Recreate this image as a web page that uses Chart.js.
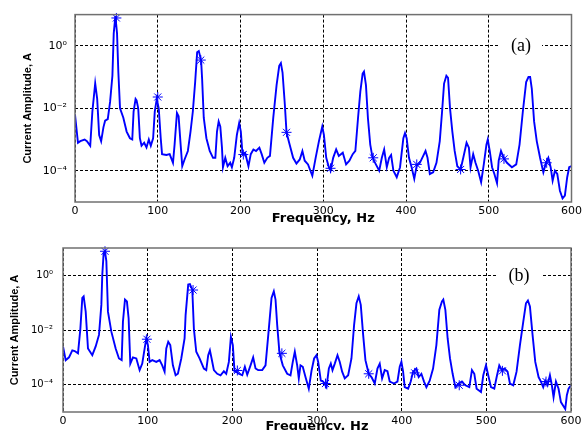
<!DOCTYPE html>
<html>
<head>
<meta charset="utf-8">
<script src="https://cdn.jsdelivr.net/npm/chart.js@4"></script>
<style>
  html, body { margin: 0; padding: 0; background: #fff; }
  body { width: 585px; height: 430px; overflow: hidden; position: relative; }
  canvas { position: absolute; left: 0; }
  #chartA { top: 0; }
  #chartB { top: 226px; }
  .tag {
    position: absolute; background: #fff; color: #000;
    font-family: "Liberation Serif", serif; font-size: 18px;
    line-height: 20px; text-align: center;
  }
</style>
</head>
<body>
<canvas id="chartA" width="585" height="228"></canvas>
<canvas id="chartB" width="585" height="214"></canvas>
<div class="tag" style="left:500px; top:35px; width:42px; height:20px;">(a)</div>
<div class="tag" style="left:497px; top:265px; width:44px; height:20px;">(b)</div>

<script>
// --- datos ---
const yTickValues = [1e-4, 1e-2, 1];
const yTickLabels = ['10\u207B\u2074', '10\u207B\u00B2', '10\u2070'];

// (a)
const freqA = [
  0, 3.6, 6.4, 11.6, 14.4, 18.4, 21, 24.4, 26.8, 29.2,
  31.6, 34.4, 36.4, 39.6, 42.4, 45.2, 46.8, 48.8, 50.8, 52.4,
  54.4, 58.4, 62.4, 66.4, 69.2, 70.8, 73.2, 74.4, 76.4, 78.4,
  80.4, 83.6, 86.4, 89.2, 91.6, 94.4, 96.4, 98.8, 101.2, 103.6,
  105.2, 110.4, 114.4, 118.4, 120.4, 123.2, 125.2, 127.6, 129.6, 132.4,
  136.4, 139.6, 142.4, 145.2, 147.6, 149.6, 152.4, 153.6, 155.6, 158.8,
  162.8, 166.8, 169.6, 171.6, 173.6, 175.6, 177.6, 178.8, 181.6, 184.4,
  187.6, 189.6, 192.4, 195.6, 198.4, 200.4, 202.4, 205.6, 209.6, 212.4,
  215.6, 218.8, 222.8, 225.6, 228.8, 232.4, 235.6, 239.6, 243.6, 246.8,
  248.8, 250.8, 253.6, 255.6, 258.8, 263.6, 267.6, 271.6, 274.8, 277.6,
  281.6, 286.8, 290.8, 294.8, 298.8, 300.8, 303.6, 306.8, 308.8, 312,
  315.6, 318.8, 323.6, 327.6, 331.6, 335.6, 338.8, 342, 344.8, 347.6,
  349.2, 351.6, 354, 356.8, 359.6, 363.6, 367.6, 370.8, 373.6, 376.8,
  379.6, 382, 384.8, 388.8, 392.8, 396.8, 398.8, 400.8, 403.6, 406.8,
  410, 412.8, 416.8, 420.8, 423.6, 426, 428.8, 432.8, 436.8, 440.8,
  443.6, 446, 448.8, 450.8, 453.2, 456, 458.8, 462, 466, 469.2,
  473.2, 476, 478, 481.2, 484, 487.2, 490.8, 494, 497.2, 498.8,
  501.2, 504, 506.8, 510, 512, 514.8, 518, 522, 528, 533.2,
  537.2, 541.2, 545.2, 548, 550, 552, 554.8, 558, 562, 566,
  569.2, 572, 574.8, 577.2, 580, 582.8, 586, 589.2, 592, 594.8,
  597.2, 600
];
const ampA = [
  6.3e-3, 7.9e-4, 8.9e-4, 1.0e-3, 8.9e-4, 6.3e-4, 7.9e-3, 6.3e-2, 2.0e-2, 1.4e-3,
  8.9e-4, 2.5e-3, 4.0e-3, 4.5e-3, 1.6e-2, 0.11, 2.5, 8.9, 2.5, 0.14,
  1.0e-2, 5.0e-3, 1.8e-3, 1.1e-3, 1.0e-3, 7.9e-3, 2.0e-2, 1.8e-2, 1.0e-2, 1.1e-3,
  6.3e-4, 7.9e-4, 5.6e-4, 1.0e-3, 6.3e-4, 1.1e-3, 7.9e-3, 2.0e-2, 1.0e-2, 1.1e-3,
  3.4e-4, 3.2e-4, 3.4e-4, 1.8e-4, 7.1e-4, 7.1e-3, 5.6e-3, 7.1e-4, 1.4e-4, 2.3e-4,
  4.3e-4, 1.8e-3, 7.9e-3, 6.9e-2, 0.62, 0.68, 0.34, 8.9e-2, 5.0e-3, 1.1e-3,
  4.3e-4, 2.6e-4, 2.6e-4, 1.8e-3, 3.8e-3, 2.6e-3, 5.5e-4, 1.3e-4, 2.6e-4, 1.4e-4,
  1.8e-4, 1.3e-4, 2.6e-4, 1.4e-3, 3.4e-3, 1.8e-3, 3.4e-4, 3.8e-4, 1.4e-4, 3.4e-4,
  4.8e-4, 4.3e-4, 5.5e-4, 3.4e-4, 1.8e-4, 2.6e-4, 3.0e-4, 5.0e-3, 5.5e-2, 0.23,
  0.28, 0.14, 1.3e-2, 1.7e-3, 7.9e-4, 2.6e-4, 1.7e-4, 2.3e-4, 4.3e-4, 2.1e-4,
  1.6e-4, 6.9e-5, 2.6e-4, 8.9e-4, 2.6e-3, 1.4e-3, 2.6e-4, 1.3e-4, 1.0e-4, 2.6e-4,
  4.8e-4, 3.0e-4, 3.8e-4, 1.6e-4, 2.1e-4, 3.4e-4, 4.3e-4, 4.8e-3, 3.4e-2, 0.13,
  0.15, 5.5e-2, 4.8e-3, 6.9e-4, 2.6e-4, 1.6e-4, 1.0e-4, 2.6e-4, 4.8e-4, 1.3e-4,
  2.6e-4, 3.2e-4, 1.0e-4, 6.2e-5, 1.3e-4, 1.1e-3, 1.6e-3, 1.1e-3, 2.6e-4, 1.3e-4,
  5.5e-5, 1.4e-4, 1.8e-4, 3.0e-4, 4.3e-4, 2.6e-4, 7.9e-5, 8.9e-5, 1.8e-4, 8.9e-4,
  7.9e-3, 6.2e-2, 0.11, 9.5e-2, 1.0e-2, 1.8e-3, 4.3e-4, 1.4e-4, 1.1e-4, 2.6e-4,
  7.9e-4, 5.5e-4, 1.3e-4, 3.4e-4, 1.8e-4, 1.0e-4, 4.3e-5, 1.6e-4, 6.9e-4, 1.0e-3,
  4.3e-4, 1.3e-4, 7.9e-5, 4.0e-5, 2.1e-4, 4.3e-4, 2.6e-4, 1.8e-4, 1.3e-4, 1.6e-4,
  6.9e-4, 7.9e-3, 6.9e-2, 0.1, 0.1, 4.3e-2, 3.8e-3, 8.9e-4, 2.6e-4, 8.9e-5,
  1.8e-4, 2.6e-4, 1.3e-4, 4.8e-5, 1.0e-4, 7.9e-5, 2.3e-5, 1.3e-5, 1.6e-5, 6.2e-5,
  1.3e-4, 1.4e-4
];
const starFreqA = [50, 100, 152, 203.4, 255.6, 308.8, 360.4, 413, 466, 518.4, 570];
const starAmpA = [7.8, 2.3e-2, 0.35, 3.3e-4, 1.7e-3, 1.2e-4, 2.6e-4, 1.6e-4, 1.1e-4, 2.4e-4, 1.8e-4];

// (b)
const freqB = [
  0, 3.2, 7.1, 11, 13.8, 17.7, 20.5, 22.8, 24.4, 26.8,
  29.5, 34.6, 38.6, 42.5, 45.3, 46.4, 48, 49.6, 51.2, 53.1,
  57.1, 62.2, 66.1, 69.3, 70.8, 73.2, 75.5, 77.5, 79.5, 82.6,
  86.6, 90.5, 93.6, 96.4, 98.4, 100.3, 102.3, 105.4, 110.2, 114.1,
  117.2, 120, 122, 124.3, 126.7, 129.8, 133, 135.7, 139.7, 143.6,
  144.8, 147.9, 149.9, 152.7, 154.6, 157.4, 161.3, 166.4, 169.2, 171.5,
  173.5, 175.5, 178.2, 182.2, 186.1, 190, 192.8, 195.9, 198.3, 200.6,
  202.6, 203.8, 207.7, 211.7, 214.8, 217.6, 221.5, 224.6, 227.4, 230.5,
  235.3, 239.2, 243.1, 246.3, 249, 251, 253, 255.7, 259.6, 264.8,
  268.7, 271.4, 273.8, 276.6, 278.5, 280.5, 283.2, 286.4, 290.3, 293.5,
  296.6, 299.4, 301.4, 304.5, 307.3, 311.2, 314, 316.3, 318.3, 321,
  324.2, 326.9, 329.7, 332.8, 336.8, 340.7, 343.8, 346.6, 349.3, 351.7,
  354.5, 357.2, 361.1, 364.3, 368.2, 371.4, 374.1, 376.9, 380, 383.2,
  385.9, 391, 395, 397.7, 399.7, 401.7, 403.6, 407.6, 410.7, 413.5,
  417.4, 420.1, 423.3, 426.4, 429.2, 433.1, 437.1, 441, 444.5, 447.6,
  449.2, 451.6, 454.3, 457.1, 460.2, 463.4, 467.3, 471.2, 475.2, 479.9,
  483, 485.8, 488.5, 493.7, 496.4, 499.6, 502.7, 505.5, 509.4, 512.2,
  515.3, 518.4, 521.6, 525.1, 527.9, 531.8, 535.7, 539.7, 543.6, 546.8,
  549.1, 551.5, 554.6, 557.8, 561.7, 564.5, 567.2, 569.6, 572.3, 575.1,
  577.4, 579.4, 582.2, 585.3, 588.1, 590.8, 593.2, 595.1, 597.1, 600
];
const ampB = [
  2.5e-3, 7.9e-4, 1.0e-3, 1.8e-3, 1.7e-3, 1.4e-3, 1.1e-2, 0.15, 0.17, 4.7e-2,
  2.1e-3, 1.2e-3, 2.5e-3, 6.6e-3, 8.3e-2, 1.05, 6.6, 7.6, 3.3, 4.7e-2,
  8.7e-3, 2.1e-3, 9.1e-4, 7.9e-4, 2.0e-2, 0.13, 0.11, 2.7e-2, 5.9e-4, 1.0e-3,
  9.1e-4, 3.4e-4, 5.9e-4, 2.1e-3, 4.9e-3, 2.8e-3, 6.8e-4, 7.9e-4, 6.8e-4, 7.9e-4,
  5.1e-4, 3.0e-4, 2.1e-3, 3.7e-3, 2.8e-3, 5.1e-4, 2.2e-4, 2.5e-4, 9.1e-4, 4.9e-3,
  3.5e-2, 0.46, 0.48, 0.3, 1.1e-2, 1.6e-3, 9.1e-4, 3.9e-4, 3.4e-4, 1.2e-3,
  1.8e-3, 9.1e-4, 3.4e-4, 2.5e-4, 2.2e-4, 3.1e-4, 2.5e-4, 6.8e-4, 5.6e-3, 2.8e-3,
  3.0e-4, 3.1e-4, 2.5e-4, 2.2e-4, 4.5e-4, 2.3e-4, 5.1e-4, 1.0e-3, 3.9e-4, 3.4e-4,
  3.4e-4, 5.1e-4, 1.1e-2, 0.15, 0.26, 0.13, 1.5e-2, 1.4e-3, 5.1e-4, 2.5e-4,
  2.2e-4, 6.8e-4, 1.6e-3, 5.1e-4, 1.7e-4, 5.1e-4, 4.5e-4, 1.9e-4, 7.1e-5, 3.2e-4,
  9.1e-4, 1.2e-3, 6.8e-4, 1.4e-4, 1.3e-4, 8.1e-5, 3.9e-4, 5.9e-4, 3.4e-4, 5.9e-4,
  1.2e-3, 6.8e-4, 3.0e-4, 1.7e-4, 2.2e-4, 9.1e-4, 1.5e-2, 9.5e-2, 0.17, 8.3e-2,
  6.6e-3, 7.9e-4, 2.5e-4, 1.9e-4, 1.1e-4, 3.9e-4, 5.9e-4, 1.7e-4, 3.4e-4, 3.1e-4,
  1.3e-4, 1.1e-4, 1.3e-4, 4.5e-4, 6.8e-4, 3.0e-4, 8.1e-5, 7.1e-5, 1.3e-4, 3.0e-4,
  3.9e-4, 1.9e-4, 2.5e-4, 1.3e-4, 8.1e-5, 1.4e-4, 3.9e-4, 2.8e-3, 5.5e-2, 0.11,
  0.13, 5.5e-2, 4.9e-3, 9.1e-4, 2.5e-4, 8.1e-5, 1.1e-4, 1.3e-4, 9.5e-5, 8.1e-5,
  3.4e-4, 2.5e-4, 7.1e-5, 5.4e-5, 2.2e-4, 5.1e-4, 1.9e-4, 8.1e-5, 7.1e-5, 1.9e-4,
  5.1e-4, 3.4e-4, 3.9e-4, 3.0e-4, 1.1e-4, 9.5e-5, 3.0e-4, 2.8e-3, 2.0e-2, 9.5e-2,
  0.12, 7.2e-2, 6.6e-3, 6.8e-4, 1.9e-4, 1.3e-4, 8.1e-5, 1.4e-4, 9.5e-5, 2.2e-4,
  9.5e-5, 3.5e-5, 1.3e-4, 7.1e-5, 2.3e-5, 1.7e-5, 1.3e-5, 4.1e-5, 7.1e-5, 9.5e-5
];
const starFreqB = [49.6, 99.1, 153.6, 205.9, 258.5, 310, 361.1, 415.4, 468, 519, 570.5];
const starAmpB = [7.6, 4.6e-3, 0.29, 3.3e-4, 1.4e-3, 1.1e-4, 2.5e-4, 2.7e-4, 9.5e-5, 3.2e-4, 1.3e-4];

// marco gris alrededor del area de trazado
const framePlugin = {
  id: 'frame',
  afterDraw(chart) {
    const { ctx, chartArea: a } = chart;
    ctx.save();
    ctx.strokeStyle = '#707070';
    ctx.lineWidth = 1.5;
    ctx.strokeRect(a.left, a.top, a.right - a.left, a.bottom - a.top);
    ctx.restore();
  }
};

function makeChart(id, freq, amp, starFreq, starAmp, cfg) {
  return new Chart(document.getElementById(id), {
    type: 'line',
    data: {
      datasets: [
        {
          data: freq.map((f, i) => ({ x: f, y: amp[i] })),
          borderColor: '#0000ff',
          borderWidth: 1.9,
          pointRadius: 0,
          tension: 0
        },
        {
          data: starFreq.map((f, i) => ({ x: f, y: starAmp[i] })),
          showLine: false,
          pointStyle: 'star',
          pointRadius: 5,
          pointBorderWidth: 1,
          borderColor: '#0000ff',
          backgroundColor: '#0000ff',
          clip: false
        }
      ]
    },
    options: {
      responsive: false,
      animation: false,
      devicePixelRatio: 1,
      layout: { padding: { left: 0, top: cfg.top, right: cfg.right, bottom: 0 } },
      plugins: { legend: { display: false }, tooltip: { enabled: false } },
      scales: {
        x: {
          type: 'linear',
          min: 0,
          max: 600,
          ticks: {
            stepSize: 100,
            padding: 3,
            maxRotation: 0,
            color: '#000',
            font: { family: 'DejaVu Sans', size: 11 }
          },
          grid: { color: '#000', lineWidth: 1, drawTicks: false },
          border: { display: false, dash: [3, 2] },
          title: {
            display: true,
            text: 'Frequency, Hz',
            color: '#000',
            font: { family: 'DejaVu Sans', weight: 'bold', size: 13 },
            padding: { top: 0, bottom: cfg.xTitlePad }
          },
          afterFit(s) { s.height = cfg.xHeight; }
        },
        y: {
          type: 'logarithmic',
          min: 1e-5,
          max: 10,
          afterBuildTicks(s) { s.ticks = yTickValues.map(v => ({ value: v })); },
          ticks: {
            callback: (v, i) => yTickLabels[i],
            padding: cfg.yTickPad,
            color: '#000',
            font: { family: 'DejaVu Sans', size: cfg.yTickSize }
          },
          grid: { color: '#000', lineWidth: 1, drawTicks: false },
          border: { display: false, dash: [3, 2] },
          title: {
            display: true,
            text: 'Current Amplitude, A',
            color: '#000',
            font: { family: 'Liberation Sans', weight: 'bold', size: 11 },
            padding: { top: cfg.yTitlePad, bottom: 0 }
          },
          afterFit(s) { s.width = cfg.yWidth; }
        }
      }
    },
    plugins: [framePlugin]
  });
}

makeChart('chartA', freqA, ampA, starFreqA, starAmpA, {
  top: 12, right: 11, xHeight: 26, yWidth: 75,
  xTitlePad: 2, yTitlePad: 21, yTickPad: 8, yTickSize: 11
});

makeChart('chartB', freqB, ampB, starFreqB, starAmpB, {
  top: 22, right: 14, xHeight: 28, yWidth: 63,
  xTitlePad: 6, yTitlePad: 8, yTickPad: 10, yTickSize: 10
});
</script>
</body>
</html>
